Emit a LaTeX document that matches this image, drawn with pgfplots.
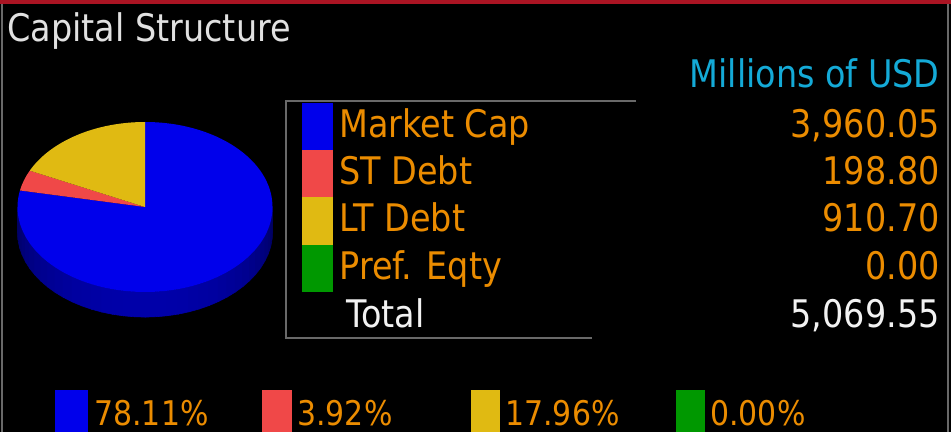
\documentclass[border=0pt]{standalone}
\usepackage{pgfplots}
\pgfplotsset{compat=1.18}
\usepackage{fontspec}
\setmainfont{DejaVu Sans}[FakeStretch=0.88]
\definecolor{pieblue}{RGB}{0,0,235}
\definecolor{piered}{RGB}{240,72,72}
\definecolor{pieyellow}{RGB}{224,186,18}
\definecolor{piegreen}{RGB}{0,152,0}
\definecolor{bbgorange}{RGB}{235,140,0}
\definecolor{bbgcyan}{RGB}{20,170,215}
\definecolor{titlegrey}{RGB}{225,225,225}
\definecolor{totwhite}{RGB}{242,242,242}
\definecolor{topred}{RGB}{170,20,35}
\definecolor{linegrey}{RGB}{105,105,105}
\definecolor{sidedark}{RGB}{0,0,90}
\definecolor{sidemid}{RGB}{0,0,170}
\newcommand{\bigf}{\fontsize{19pt}{19pt}\selectfont}
\newcommand{\smallf}{\fontsize{17pt}{17pt}\selectfont}
\begin{document}
\begin{tikzpicture}
\begin{scope}[x=0.5pt,y=-0.5pt]
\useasboundingbox (0,0) rectangle (951,432);
\fill[black] (0,0) rectangle (951,432);
\fill[topred] (0,0) rectangle (951,4);
\draw[linegrey, line width=1pt] (2,4) -- (2,432);
\draw[linegrey, line width=1pt] (948,4) -- (948,432);
% legend box
\draw[linegrey, line width=1pt] (636,101) -- (286,101) -- (286,338) -- (592,338);
\fill[pieblue] (302,103) rectangle (333,150);
\fill[piered] (302,150) rectangle (333,197);
\fill[pieyellow] (302,197) rectangle (333,245);
\fill[piegreen] (302,245) rectangle (333,292);
\node[anchor=base west, inner sep=0, text=titlegrey, font=\bigf] at (7,42) {Capital Structure};
\node[anchor=base east, inner sep=0, text=bbgcyan, font=\bigf] at (940,88) {Millions of USD};
\node[anchor=base west, inner sep=0, text=bbgorange, font=\bigf] at (339,138) {Market Cap};
\node[anchor=base west, inner sep=0, text=bbgorange, font=\bigf] at (339,185) {ST Debt};
\node[anchor=base west, inner sep=0, text=bbgorange, font=\bigf] at (339,232) {LT Debt};
\node[anchor=base west, inner sep=0, text=bbgorange, font=\bigf] at (339,279) {Pref. Eqty};
\node[anchor=base west, inner sep=0, text=totwhite, font=\bigf] at (346,328) {Total};
\node[anchor=base east, inner sep=0, text=bbgorange, font=\bigf] at (940,138) {3,960.05};
\node[anchor=base east, inner sep=0, text=bbgorange, font=\bigf] at (940,185) {198.80};
\node[anchor=base east, inner sep=0, text=bbgorange, font=\bigf] at (940,232) {910.70};
\node[anchor=base east, inner sep=0, text=bbgorange, font=\bigf] at (940,279) {0.00};
\node[anchor=base east, inner sep=0, text=totwhite, font=\bigf] at (940,328) {5,069.55};
% bottom percentages
\fill[pieblue] (55,390) rectangle (88,432);
\fill[piered] (262,390) rectangle (292,432);
\fill[pieyellow] (471,390) rectangle (500,432);
\fill[piegreen] (676,390) rectangle (705,432);
\node[anchor=base west, inner sep=0, text=bbgorange, font=\smallf] at (94,425) {78.11\%};
\node[anchor=base west, inner sep=0, text=bbgorange, font=\smallf] at (297,425) {3.92\%};
\node[anchor=base west, inner sep=0, text=bbgorange, font=\smallf] at (505,425) {17.96\%};
\node[anchor=base west, inner sep=0, text=bbgorange, font=\smallf] at (710,425) {0.00\%};
\end{scope}
% pie angles from the values
\pgfmathsetmacro{\vA}{3960.05}
\pgfmathsetmacro{\vB}{198.80}
\pgfmathsetmacro{\vC}{910.70}
\pgfmathsetmacro{\vD}{0.00}
\pgfmathsetmacro{\tot}{\vA+\vB+\vC+\vD}
\pgfmathsetmacro{\aA}{90-360*(\vA/\tot)}
\pgfmathsetmacro{\aB}{\aA-360*(\vB/\tot)}
\pgfmathsetmacro{\aC}{\aB-360*(\vC/\tot)}
\begin{axis}[at={(72.5pt,-103.5pt)}, anchor=center, width=127.5pt, height=85pt,
  scale only axis, xmin=-1, xmax=1, ymin=-1, ymax=1, hide axis, clip=false]
% side of the pie (Market Cap covers the whole front), shaded in strips
\pgfplotsinvokeforeach{0,...,35}{
  \pgfmathsetmacro{\sa}{180+5*#1}
  \pgfmathsetmacro{\sb}{185.4+5*#1}
  \pgfmathtruncatemacro{\sp}{100*sin(5*#1+2.5)^0.8}
  \edef\temp{\noexpand\fill[sidemid!\sp!sidedark, draw=sidemid!\sp!sidedark, line width=0.3pt]
    (axis cs:{cos(\sa)},{sin(\sa)}) arc[start angle=\sa, end angle=\sb, x radius=63.75pt, y radius=42.5pt]
    -- (axis cs:{cos(\sb)},{sin(\sb)-0.2941}) arc[start angle=\sb, end angle=\sa, x radius=63.75pt, y radius=42.5pt] -- cycle;}
  \temp
}
\fill[pieblue] (axis cs:0,0) -- (axis cs:0,1)
  arc[start angle=90, end angle=\aA, x radius=63.75pt, y radius=42.5pt] -- cycle;
\fill[piered] (axis cs:0,0) -- (axis cs:{cos(\aA)},{sin(\aA)})
  arc[start angle=\aA, end angle=\aB, x radius=63.75pt, y radius=42.5pt] -- cycle;
\fill[pieyellow] (axis cs:0,0) -- (axis cs:{cos(\aB)},{sin(\aB)})
  arc[start angle=\aB, end angle=\aC, x radius=63.75pt, y radius=42.5pt] -- cycle;
\end{axis}
\end{tikzpicture}
\end{document}
